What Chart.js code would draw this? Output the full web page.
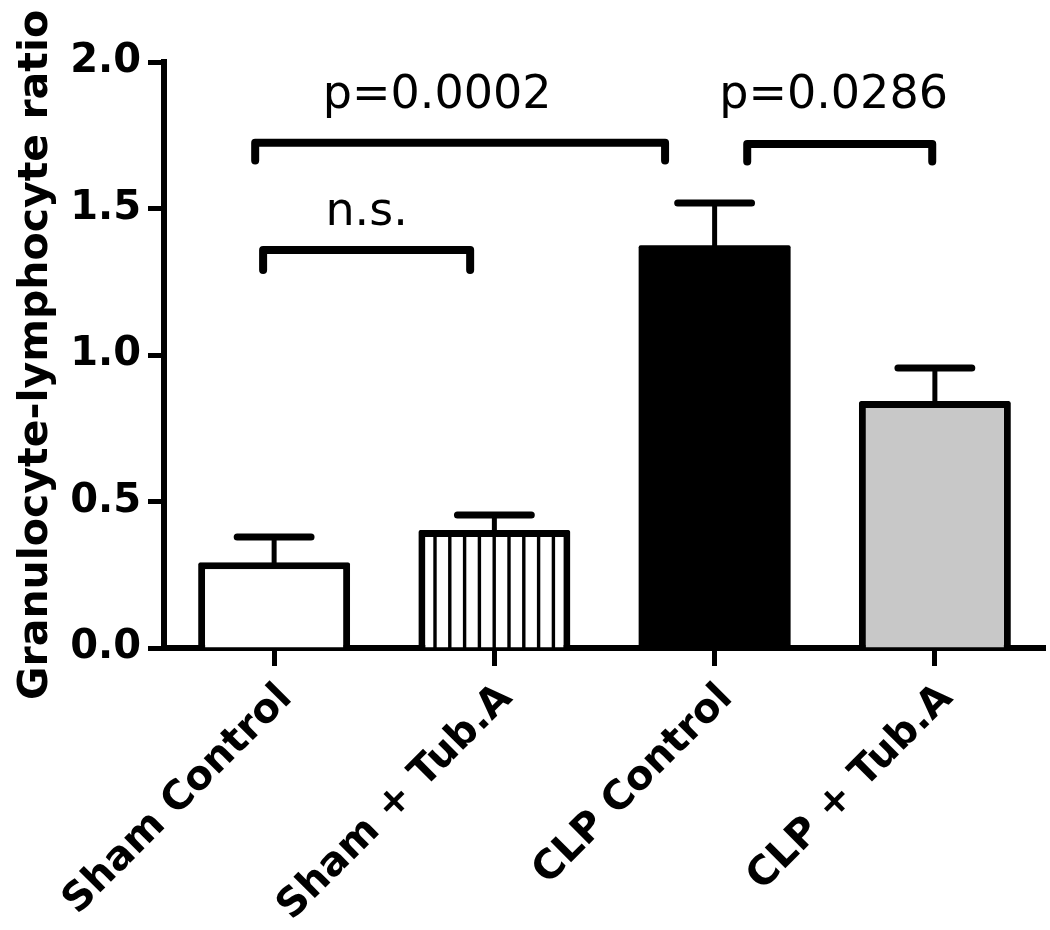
<!DOCTYPE html>
<html><head><meta charset="utf-8">
<script src="https://cdn.jsdelivr.net/npm/chart.js@4/dist/chart.umd.min.js"></script>
<style>html,body{margin:0;padding:0;background:#fff}</style>
</head><body>
<canvas id="c" width="1050" height="930"></canvas>
<script>
// ---- data ----
const categories = ['Sham Control', 'Sham + Tub.A', 'CLP Control', 'CLP + Tub.A'];
const means = [0.293, 0.403, 1.375, 0.843];
const sems = [0.086, 0.051, 0.144, 0.113];
const yTicks = [0.0, 0.5, 1.0, 1.5, 2.0];
const yTitle = 'Granulocyte-lymphocyte ratio';
// significance annotations (category-index coordinates, value levels)
const bracketLabels = ['p=0.0002', 'n.s.', 'p=0.0286'];
const bracketFrom = [-0.086, -0.05, 2.148];
const bracketTo = [1.775, 0.89, 2.988];
const bracketLevel = [1.724, 1.358, 1.72];
const bracketDrop = [0.06, 0.068, 0.06];
const labelX = [0.74, 0.42, 2.54];
const labelLevel = [1.843, 1.444, 1.843];

const FONT = 'DejaVu Sans';
const canvas = document.getElementById('c');
const ctx0 = canvas.getContext('2d');

function stripePattern() {
  const c = document.createElement('canvas');
  c.width = 74; c.height = 4;
  const g = c.getContext('2d');
  g.fillStyle = '#ffffff'; g.fillRect(0, 0, 74, 4);
  g.fillStyle = '#000000';
  for (let k = 0; k < 5; k++) g.fillRect(4.1 + k * 14.8, 0, 3.4, 4);
  return ctx0.createPattern(c, 'repeat');
}
const fills = ['#ffffff', stripePattern(), '#000000', '#c8c8c8'];

const annotate = {
  id: 'annotate',
  afterDatasetsDraw(chart) {
    const ctx = chart.ctx, xs = chart.scales.x, ys = chart.scales.y;
    const meta = chart.getDatasetMeta(0);
    ctx.save();
    ctx.strokeStyle = '#000';
    meta.data.forEach((bar, i) => {
      const x = bar.x;
      const yTop = ys.getPixelForValue(means[i]);
      const yErr = ys.getPixelForValue(means[i] + sems[i]);
      ctx.lineCap = 'butt';
      ctx.lineWidth = 5;
      ctx.beginPath(); ctx.moveTo(x, yTop + 2); ctx.lineTo(x, yErr); ctx.stroke();
      const hw = bar.width * 0.243;
      ctx.lineCap = 'round';
      ctx.lineWidth = 7;
      ctx.beginPath(); ctx.moveTo(x - hw, yErr); ctx.lineTo(x + hw, yErr); ctx.stroke();
    });
    // brackets
    const pxPerCat = xs.getPixelForValue(1) - xs.getPixelForValue(0);
    const px = v => xs.getPixelForValue(0) + v * pxPerCat;
    ctx.lineWidth = 8; ctx.lineCap = 'round'; ctx.lineJoin = 'round';
    for (let i = 0; i < bracketLabels.length; i++) {
      const x1 = px(bracketFrom[i]), x2 = px(bracketTo[i]);
      const y = ys.getPixelForValue(bracketLevel[i]);
      const yd = ys.getPixelForValue(bracketLevel[i] - bracketDrop[i]);
      ctx.beginPath(); ctx.moveTo(x1, yd); ctx.lineTo(x1, y); ctx.lineTo(x2, y); ctx.lineTo(x2, yd); ctx.stroke();
      ctx.fillStyle = '#000';
      ctx.font = '46px "' + FONT + '"';
      ctx.textAlign = 'center'; ctx.textBaseline = 'alphabetic';
      ctx.fillText(bracketLabels[i], px(labelX[i]), ys.getPixelForValue(labelLevel[i]));
    }
    ctx.restore();
  }
};

new Chart(canvas, {
  type: 'bar',
  data: {
    labels: categories,
    datasets: [{
      data: means,
      backgroundColor: fills,
      borderColor: '#000000',
      borderWidth: [7, 7, 0, 7],
      borderSkipped: 'start',
      borderRadius: 2,
      barPercentage: 0.69,
      categoryPercentage: 1.0
    }]
  },
  options: {
    responsive: false,
    animation: false,
    devicePixelRatio: 1,
    layout: { padding: { top: 62, right: 5, left: 0, bottom: 0 } },
    plugins: { legend: { display: false }, tooltip: { enabled: false } },
    scales: {
      x: {
        type: 'category',
        offset: true,
        grid: { display: true, offset: false, drawOnChartArea: false, drawTicks: true, tickLength: 18, tickWidth: 5, tickColor: '#000' },
        border: { display: true, color: '#000', width: 6 },
        ticks: { color: '#000', font: { family: FONT, weight: 'bold', size: 40 }, minRotation: 45, maxRotation: 45, autoSkip: false, padding: 9, labelOffset: 12 },
        afterFit(s) { s.height = 282; }
      },
      y: {
        min: 0, max: 2,
        afterBuildTicks(s) { s.ticks = yTicks.map(v => ({ value: v })); },
        grid: { display: true, drawOnChartArea: false, drawTicks: true, tickLength: 16, tickWidth: 5, tickColor: '#000' },
        border: { display: true, color: '#000', width: 6 },
        ticks: { color: '#000', font: { family: FONT, weight: 'bold', size: 40 }, padding: 7, callback: v => Number(v).toFixed(1) },
        title: { display: true, text: yTitle, color: '#000', font: { family: FONT, weight: 'bold', size: 41 }, padding: { top: 12, bottom: 0 } },
        afterFit(s) { s.width = 164; }
      }
    }
  },
  plugins: [annotate]
});
</script>
</body></html>
